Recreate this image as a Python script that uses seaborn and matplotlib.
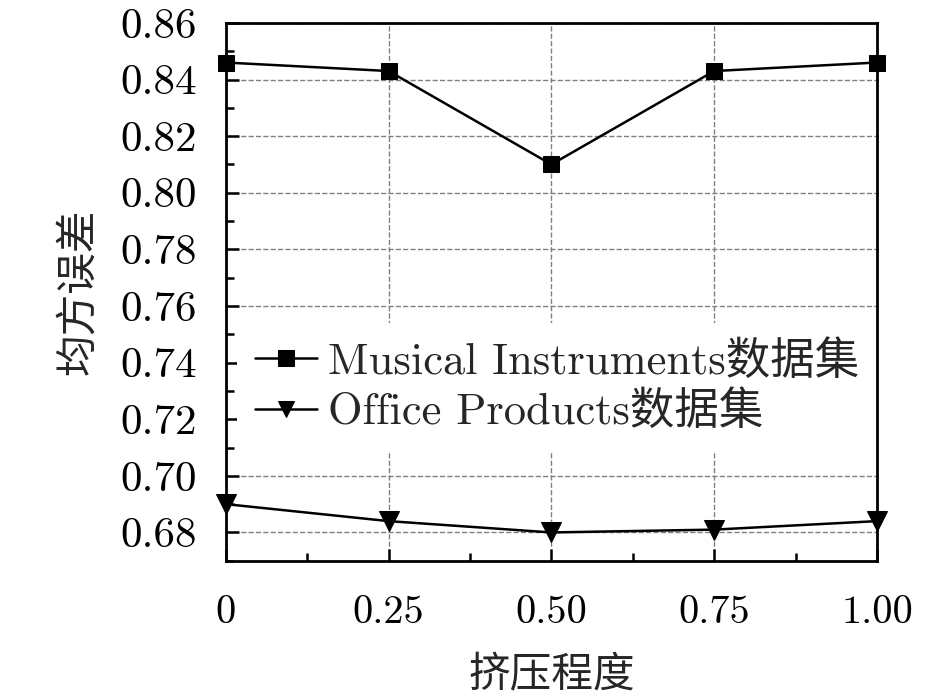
import numpy as np
import pandas as pd

import matplotlib
matplotlib.use("Agg")
import matplotlib.pyplot as plt
from matplotlib.ticker import FixedLocator, MultipleLocator, FixedFormatter
import seaborn as sns


# ============================================================
# DATA
# ============================================================

squeeze = [0, 0.25, 0.50, 0.75, 1.00]
x_ticklabels = ["0", "0.25", "0.50", "0.75", "1.00"]

musical = [0.846, 0.843, 0.810, 0.843, 0.846]
office = [0.690, 0.684, 0.680, 0.681, 0.684]

series_names = ["Musical Instruments数据集", "Office Products数据集"]

y_ticks = [0.68, 0.70, 0.72, 0.74, 0.76, 0.78, 0.80, 0.82, 0.84, 0.86]

df = pd.DataFrame({
    "squeeze": squeeze * 2,
    "mse": musical + office,
    "series": [series_names[0]] * len(squeeze) + [series_names[1]] * len(squeeze),
})


# ============================================================
# STYLE
# ============================================================

sns.set_style("ticks")
plt.rcParams["font.family"] = ["cmr10", "Noto Sans CJK SC"]
plt.rcParams["axes.unicode_minus"] = False


# ============================================================
# PLOT
# ============================================================

fig, ax = plt.subplots(figsize=(9.45, 6.94), dpi=100)

sns.lineplot(
    data=df,
    x="squeeze",
    y="mse",
    hue="series",
    style="series",
    palette=["black", "black"],
    markers={series_names[0]: "s", series_names[1]: "v"},
    dashes=False,
    markersize=12,
    markeredgecolor="black",
    linewidth=1.8,
    ax=ax,
    clip_on=False,
    zorder=5,
)

# triangles look a bit bigger in the original
for ln in ax.lines:
    if ln.get_marker() == "v":
        ln.set_markersize(14)

ax.set_xlim(0, 1)
ax.set_ylim(0.67, 0.86)

ax.xaxis.set_major_locator(FixedLocator(squeeze))
ax.xaxis.set_major_formatter(FixedFormatter(x_ticklabels))
ax.xaxis.set_minor_locator(MultipleLocator(0.125))
ax.yaxis.set_major_locator(FixedLocator(y_ticks))
ax.yaxis.set_major_formatter(FixedFormatter([f"{v:.2f}" for v in y_ticks]))
ax.yaxis.set_minor_locator(MultipleLocator(0.01))

ax.tick_params(which="both", direction="in", top=False, right=False,
               width=1.8, colors="black")
ax.tick_params(which="major", length=9)
ax.tick_params(which="minor", length=6)
ax.tick_params(axis="y", which="major", labelsize=31, pad=21)
ax.tick_params(axis="x", which="major", labelsize=29, pad=25)

ax.grid(True, which="major", linestyle="--", color="gray", linewidth=1.0)

for sp in ax.spines.values():
    sp.set_linewidth(2)
    sp.set_color("black")

ax.set_xlabel("挤压程度", fontsize=30, labelpad=18)
ax.set_ylabel("均方误差", fontsize=30, labelpad=16)

leg = ax.legend(
    loc="center left",
    bbox_to_anchor=(-0.017, 0.323),
    frameon=True,
    fontsize=32,
    handlelength=1.4,
    handletextpad=0.25,
    labelspacing=0.2,
)
leg.get_frame().set_edgecolor("none")
leg.get_frame().set_facecolor("white")
leg.get_frame().set_alpha(1)
leg.set_zorder(2)
for h in leg.legend_handles:
    h.set_markersize(11)

plt.subplots_adjust(left=0.239, right=0.928, top=0.967, bottom=0.192)
plt.savefig("out.png", dpi=100)
